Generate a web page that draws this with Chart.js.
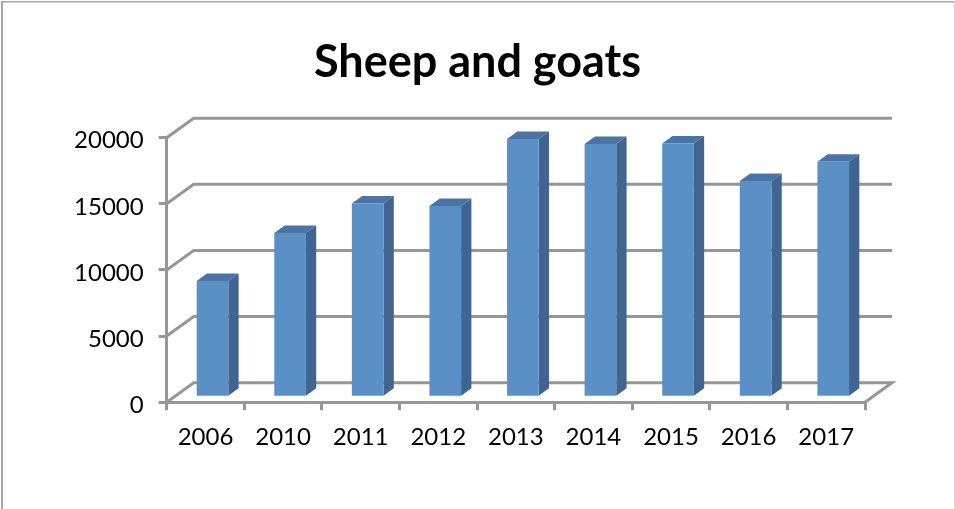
<!DOCTYPE html>
<html>
<head>
<meta charset="utf-8">
<title>Sheep and goats</title>
<script src="https://cdn.jsdelivr.net/npm/chart.js@4/dist/chart.umd.min.js"></script>
<style>
  html, body { margin: 0; padding: 0; background: #fff; }
  #wrap { position: relative; width: 955px; height: 509px; }
</style>
</head>
<body>
<div id="wrap"><canvas id="chart"></canvas></div>
<script>
const years = ['2006', '2010', '2011', '2012', '2013', '2014', '2015', '2016', '2017'];
const sheepGoats = [8790, 12420, 14640, 14450, 19530, 19140, 19180, 16340, 17800];
const yTicks = [0, 5000, 10000, 15000, 20000];

const GREY = '#969696';
const FONT = "Lato, 'Open Sans', sans-serif";

// back wall offset and bar offset/depth of the fake 3D
const wall = { dx: 27, dy: -19.5 };
const barShift = { dx: 7, dy: -5 };
const barDepth = { dx: 10.3, dy: -7.5 };

/* PLUGINS */

// thin frame of the picture, the right edge is much fainter
const frame = {
  id: 'frame',
  beforeDraw(chart) {
    const { ctx } = chart;
    ctx.save();
    ctx.fillStyle = '#a6a6a6';
    ctx.fillRect(1, 1, 2, 508);
    ctx.fillRect(1, 1, 954, 1.5);
    ctx.fillStyle = '#d4d4d4';
    ctx.fillRect(954, 1, 1, 508);
    ctx.restore();
  },
};

// grid on the back wall, diagonals along the side wall and the floor
const walls = {
  id: 'walls',
  beforeDatasetsDraw(chart) {
    const { ctx, scales, chartArea } = chart;
    const { left, right } = chartArea;
    ctx.save();
    ctx.strokeStyle = GREY;
    ctx.lineWidth = 3;
    yTicks.forEach((tick) => {
      const y = scales.y.getPixelForValue(tick);
      ctx.beginPath();
      ctx.moveTo(left, y);
      ctx.lineTo(left + wall.dx, y + wall.dy);
      ctx.lineTo(right + wall.dx, y + wall.dy);
      if (tick === 0) ctx.lineTo(right, y);
      ctx.stroke();
    });
    ctx.restore();
  },
};

// moves bars off the axis plane and adds top and side faces
const bars3d = {
  id: 'bars3d',
  beforeDatasetDraw(chart, args) {
    const { ctx } = chart;
    ctx.save();
    ctx.translate(barShift.dx, barShift.dy);
    args.meta.data.forEach((bar) => {
      const x0 = bar.x - bar.width / 2;
      const x1 = bar.x + bar.width / 2;
      const { y, base } = bar;

      ctx.fillStyle = '#4a74a6';
      ctx.beginPath();
      ctx.moveTo(x0, y);
      ctx.lineTo(x0 + barDepth.dx, y + barDepth.dy);
      ctx.lineTo(x1 + barDepth.dx, y + barDepth.dy);
      ctx.lineTo(x1, y);
      ctx.closePath();
      ctx.fill();

      ctx.fillStyle = '#416490';
      ctx.beginPath();
      ctx.moveTo(x1, y);
      ctx.lineTo(x1 + barDepth.dx, y + barDepth.dy);
      ctx.lineTo(x1 + barDepth.dx, base + barDepth.dy);
      ctx.lineTo(x1, base);
      ctx.closePath();
      ctx.fill();
    });
  },
  afterDatasetDraw(chart) {
    chart.ctx.restore();
  },
};

/* CHART */

new Chart(document.getElementById('chart'), {
  type: 'bar',
  data: {
    labels: years,
    datasets: [{
      data: sheepGoats,
      backgroundColor: '#5b90c6',
      barPercentage: 0.408,
      categoryPercentage: 1,
      clip: false,
    }],
  },
  options: {
    responsive: true,
    maintainAspectRatio: false,
    animation: false,
    layout: { padding: 0 },
    plugins: {
      legend: { display: false },
      tooltip: { enabled: false },
      title: {
        display: true,
        text: 'Sheep and goats',
        color: '#000',
        font: { family: FONT, size: 45, weight: 'bold', lineHeight: 1.2 },
        padding: { top: 35, bottom: 48.7 },
      },
    },
    scales: {
      x: {
        afterFit(scale) { scale.height = 106.8; },
        grid: { drawOnChartArea: false, drawTicks: true, tickLength: 8, color: GREY, lineWidth: 3, offset: true },
        border: { color: GREY, width: 3 },
        ticks: { color: '#000', padding: 13, font: { family: FONT, size: 24 }, maxRotation: 0 },
      },
      y: {
        min: 0,
        max: 20000,
        afterFit(scale) { scale.width = 166.7; },
        afterBuildTicks(scale) { scale.ticks = yTicks.map((value) => ({ value })); },
        grid: { drawOnChartArea: false, drawTicks: true, tickLength: 8, color: GREY, lineWidth: 3 },
        border: { color: GREY, width: 3 },
        // empty first line with a short line height pushes the label 3px down
        ticks: { color: '#000', padding: 15, font: { family: FONT, size: 24, lineHeight: 0.25 }, callback: (v) => ['', String(v)] },
      },
      // empty axis only to keep the plot clear of the right side, title stays centred
      spacer: {
        position: 'right',
        afterFit(scale) { scale.width = 90; },
        grid: { display: false },
        border: { display: false },
        ticks: { display: false },
      },
    },
  },
  plugins: [frame, walls, bars3d],
});
</script>
</body>
</html>
